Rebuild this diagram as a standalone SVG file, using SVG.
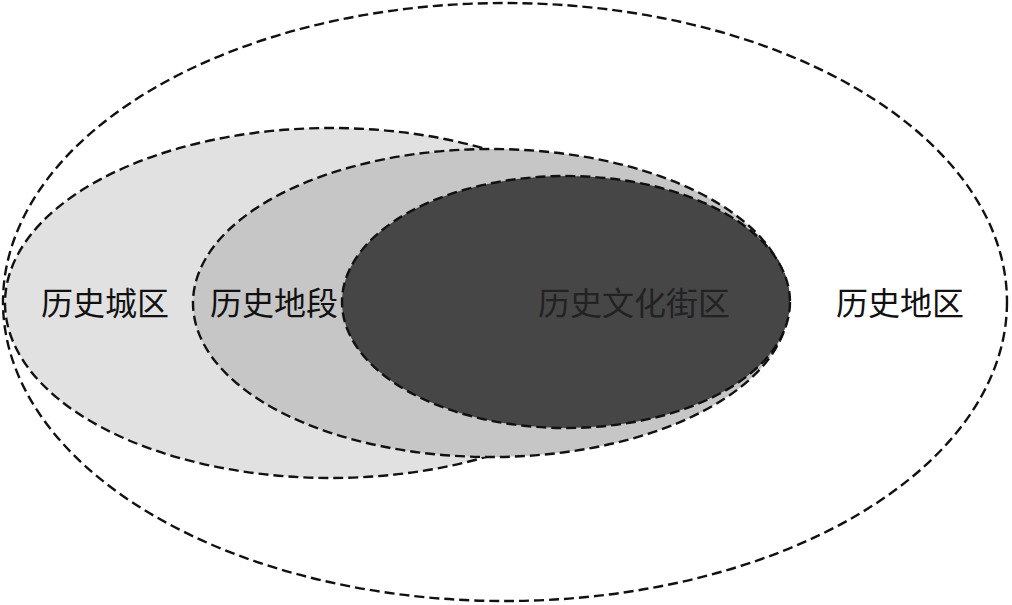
<svg xmlns="http://www.w3.org/2000/svg" width="1012" height="605" viewBox="0 0 1012 605">
<style>
.e{stroke:#111;stroke-width:2.4;stroke-dasharray:10 5}
.t{font-family:"Noto Sans CJK SC","Noto Sans CJK JP",sans-serif;font-size:32px;text-anchor:middle;fill:#111}
</style>
<rect width="1012" height="605" fill="#fff"/>
<g id="region">
<ellipse class="e" cx="505" cy="302" rx="502" ry="299" fill="#fff"/>
<text class="t" x="900" y="315">历史地区</text>
</g>
<g id="city">
<ellipse class="e" cx="331" cy="303" rx="326" ry="175" fill="#e1e1e1"/>
<text class="t" x="105" y="315">历史城区</text>
</g>
<g id="section">
<ellipse class="e" cx="491" cy="303" rx="298" ry="154" fill="#c6c6c6"/>
<text class="t" x="274" y="315">历史地段</text>
</g>
<g id="block">
<ellipse class="e" cx="566" cy="302" rx="224" ry="126" fill="#464646"/>
<text class="t" x="634" y="315" style="fill:#222">历史文化街区</text>
</g>
<g id="connectors"/>
</svg>
